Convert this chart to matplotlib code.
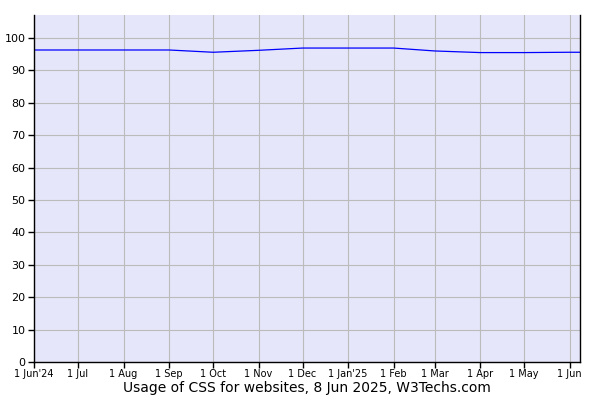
import numpy as np
import matplotlib.pyplot as plt
import matplotlib.dates as mdates
from datetime import date

# Monthly usage share (%)
dates = [date(2024, 6, 1), date(2024, 7, 1), date(2024, 8, 1), date(2024, 9, 1),
         date(2024, 10, 1), date(2024, 11, 1), date(2024, 12, 1), date(2025, 1, 1),
         date(2025, 2, 1), date(2025, 3, 1), date(2025, 4, 1), date(2025, 5, 1),
         date(2025, 6, 1), date(2025, 6, 8)]
usage = [96.3, 96.3, 96.3, 96.3, 95.6, 96.2, 96.9, 96.9, 96.9, 96.0, 95.5, 95.5, 95.6, 95.6]

tick_dates = dates[:13]
tick_labels = ["1 Jun'24", "1 Jul", "1 Aug", "1 Sep", "1 Oct", "1 Nov", "1 Dec",
               "1 Jan'25", "1 Feb", "1 Mar", "1 Apr", "1 May", "1 Jun"]
y_ticks = [0, 10, 20, 30, 40, 50, 60, 70, 80, 90, 100]

fig = plt.figure(figsize=(6, 4), dpi=100)
ax = fig.add_axes([34 / 600, 38 / 400, 546 / 600, 347 / 400])
ax.set_facecolor('#e6e6fa')

ax.plot(dates, usage, color='blue', linewidth=0.9)

ax.set_xlim(date(2024, 6, 1), date(2025, 6, 8))
ax.set_ylim(0, 107.1)
ax.set_xticks(tick_dates)
ax.set_xticklabels(tick_labels, fontsize=7, family='Liberation Sans Narrow')
ax.set_yticks(y_ticks)
ax.tick_params(axis='y', labelsize=8, length=4, width=1, pad=2)
ax.tick_params(axis='x', length=4, width=1, pad=1)
ax.grid(True, color='#bbbbbb', linewidth=0.8)
ax.set_axisbelow(True)

ax.spines['top'].set_visible(False)
for s in ['left', 'right', 'bottom']:
    ax.spines[s].set_linewidth(1.0)

fig.text(307 / 600, 12 / 400, "Usage of CSS for websites, 8 Jun 2025, W3Techs.com",
         ha='center', va='center', fontsize=10)

plt.savefig("out.png", dpi=100)
plt.close()
